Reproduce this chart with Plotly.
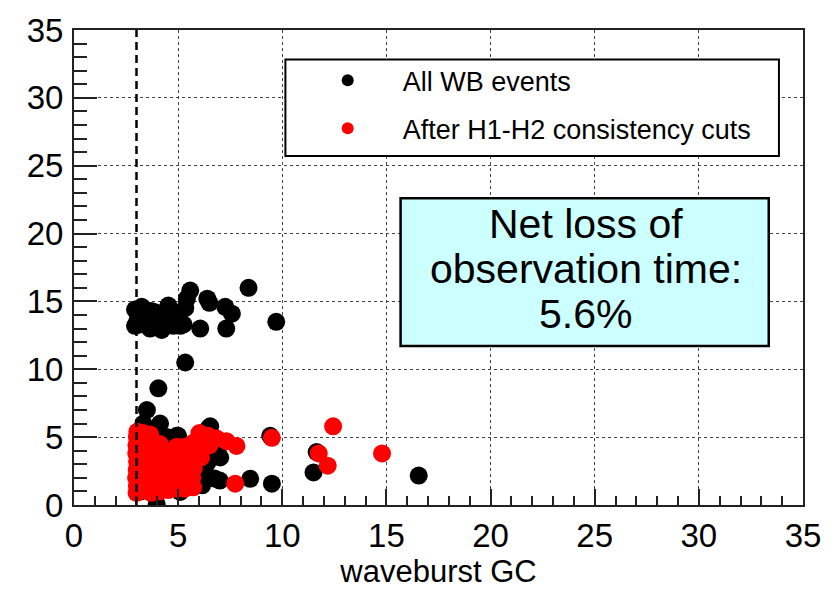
import plotly.graph_objects as go

# ---------------- data ----------------
all_x = [
    # upper cluster
    2.93, 3.17, 3.50, 3.81, 4.13, 2.93, 3.65, 3.25, 4.53, 4.46, 5.01, 5.42, 5.58, 5.34, 5.26,
    6.06, 6.40, 6.50, 7.26, 7.58, 7.31, 8.38, 9.71, 4.77, 4.21, 3.10, 3.40, 3.90, 4.00, 4.90,
    3.05, 3.70, 5.10,
    # middle
    5.34, 4.05, 3.50, 3.33, 4.13, 4.94, 6.54, 6.45,
    # around the low cluster
    3.30, 4.50, 5.00, 4.40, 6.90, 7.02, 6.10, 6.15, 5.10, 7.00, 6.75, 3.97, 8.46, 9.50,
    9.42, 11.50, 11.65, 16.55, 4.13, 6.40, 5.60, 3.60, 4.60, 5.40, 3.20, 4.80,
]
all_y = [
    14.4, 13.3, 14.0, 13.6, 13.9, 13.2, 13.0, 14.6, 14.7, 13.8, 14.1, 15.2, 15.8, 14.5, 13.3,
    13.0, 15.2, 14.9, 14.6, 14.1, 13.0, 16.0, 13.5, 13.2, 12.9, 13.8, 13.5, 14.2, 13.2, 13.7,
    13.6, 14.3, 13.2,
    10.5, 8.6, 7.0, 6.0, 6.0, 5.1, 5.8, 5.65,
    5.5, 5.0, 5.1, 4.4, 3.8, 3.5, 2.4, 1.45, 0.96, 1.8, 1.95, 0.05, 1.93, 1.57,
    5.1, 2.4, 3.9, 2.17, 4.85, 3.1, 2.2, 3.0, 2.5, 1.6, 1.0, 3.5,
]

cut_x = [
    3.00, 3.02, 2.98, 3.01, 3.03, 2.99, 3.00, 3.02, 3.04,
    3.31, 3.28, 3.33, 3.30, 3.27, 3.34, 3.29, 3.32,
    3.70, 3.66, 3.72, 3.69, 3.74, 3.68, 3.71, 3.65,
    4.10, 4.06, 4.12, 4.08, 4.13, 4.05, 4.11,
    4.52, 4.48, 4.55, 4.50, 4.47, 4.53,
    4.92, 4.88, 4.95, 4.90, 4.86, 4.94,
    5.32, 5.28, 5.35, 5.30, 5.27, 5.33,
    5.72, 5.68, 5.75, 5.70, 5.66, 5.74,
    6.10, 6.06, 6.13, 6.02,
    6.50, 6.45, 6.85, 7.32, 7.80,
    7.74, 9.50, 11.75, 12.18, 12.44, 14.79,
]
cut_y = [
    0.9, 1.4, 2.0, 2.6, 3.2, 3.8, 4.4, 5.0, 5.4,
    1.1, 1.7, 2.3, 2.9, 3.5, 4.1, 4.7, 5.3,
    0.9, 1.5, 2.1, 2.7, 3.3, 3.9, 4.5, 5.2,
    1.0, 1.6, 2.2, 2.8, 3.4, 4.0, 4.5,
    1.1, 1.7, 2.3, 2.9, 3.5, 4.0,
    1.2, 1.8, 2.4, 3.0, 3.6, 4.3,
    1.2, 1.9, 2.5, 3.1, 3.7, 4.3,
    1.3, 2.0, 2.7, 3.3, 3.9, 4.6,
    3.5, 4.1, 4.8, 5.3,
    4.4, 5.1, 4.9, 4.7, 4.35,
    1.57, 4.95, 3.8, 2.9, 5.8, 3.8,
]

cut_line_x = 3
x_range = [0, 35]
y_range = [0, 35]
x_title = "waveburst GC"
legend_names = ["All WB events", "After H1-H2 consistency cuts"]
box_lines = ["Net loss of", "observation time:", "5.6%"]

FONT = "Liberation Sans, Arial, Helvetica, sans-serif"

fig = go.Figure()
fig.add_trace(go.Scatter(
    x=all_x, y=all_y, mode="markers", name=legend_names[0], legendgroup="a",
    marker=dict(color="black", size=18, line=dict(width=0)),
))
fig.add_trace(go.Scatter(
    x=cut_x, y=cut_y, mode="markers", name=legend_names[1], legendgroup="b",
    marker=dict(color="#ff0000", size=18, line=dict(width=0)),
))

axis_common = dict(
    showline=True, linecolor="#222", linewidth=2, mirror=True,
    showgrid=True, gridcolor="#444", griddash="dot", gridwidth=1.2,
    zeroline=False, ticks="inside", dtick=5, tick0=0,
    tickcolor="#222", tickwidth=2,
    tickfont=dict(family=FONT, size=33, color="black"),
)
fig.update_xaxes(
    range=x_range, ticklen=16,
    minor=dict(ticks="inside", dtick=1, ticklen=9, tickwidth=1.5, tickcolor="#222", showgrid=False),
    title=dict(text=x_title, font=dict(family=FONT, size=31, color="black"), standoff=6),
    **axis_common,
)
fig.update_yaxes(
    range=y_range, ticklen=23,
    minor=dict(ticks="inside", dtick=1, ticklen=13, tickwidth=1.5, tickcolor="#222", showgrid=False),
    ticklabelstandoff=2,
    **axis_common,
)

# cut line
fig.add_shape(type="line", xref="x", yref="y", x0=cut_line_x, x1=cut_line_x, y0=y_range[0], y1=y_range[1],
              line=dict(color="black", width=2.5, dash="8px,5px"), layer="above")

# legend box
fig.add_shape(type="rect", xref="paper", yref="paper", x0=0.290, x1=0.967, y0=0.735, y1=0.938,
              fillcolor="white", line=dict(color="black", width=2), layer="above")

# info box
fig.add_shape(type="rect", xref="paper", yref="paper", x0=0.448, x1=0.953, y0=0.335, y1=0.646,
              fillcolor="#ccffff", line=dict(color="black", width=2.5), layer="above")
for txt, yy in zip(box_lines, [0.592, 0.497, 0.402]):
    fig.add_annotation(text=txt, xref="paper", yref="paper", x=0.702, y=yy,
                       showarrow=False, xanchor="center", yanchor="middle",
                       font=dict(family=FONT, size=41, color="black"))

fig.update_layout(
    width=834, height=603,
    margin=dict(l=74, r=31, t=22, b=98),
    paper_bgcolor="white", plot_bgcolor="white",
    showlegend=True,
    legend=dict(
        x=0.30, y=0.945, xanchor="left", yanchor="top",
        bgcolor="rgba(0,0,0,0)", borderwidth=0,
        font=dict(family=FONT, size=27, color="black"),
        itemsizing="constant", itemwidth=100, tracegroupgap=10,
    ),
)

fig.write_html("out.html")
